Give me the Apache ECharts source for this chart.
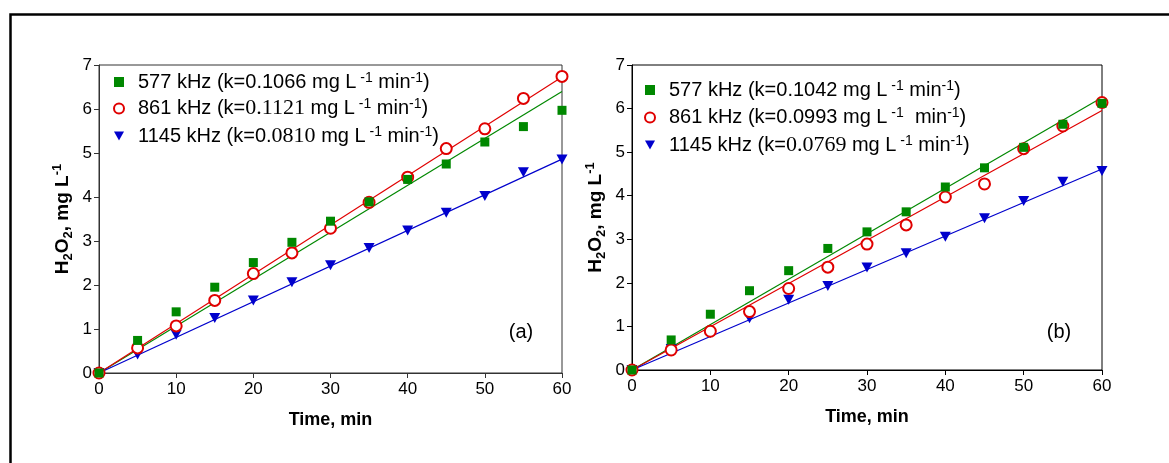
<!DOCTYPE html>
<html><head><meta charset="utf-8">
<script src="https://cdn.jsdelivr.net/npm/echarts@6/dist/echarts.min.js"></script>
<style>html,body{margin:0;padding:0;background:#fff}#c{width:1169px;height:463px}</style>
</head><body><div id="c"></div>
<script>
// ---------- data ----------
const times = [0, 5, 10, 15, 20, 25, 30, 35, 40, 45, 50, 55, 60];
const freqLabels = ['577 kHz', '861 kHz', '1145 kHz'];
const xTicks = [0, 10, 20, 30, 40, 50, 60];
const yTicks = [0, 1, 2, 3, 4, 5, 6, 7];
// panel (a)
const a577  = [0, 0.74, 1.39, 1.95, 2.51, 2.97, 3.45, 3.89, 4.40, 4.75, 5.25, 5.60, 5.97];
const a861  = [0, 0.57, 1.07, 1.65, 2.26, 2.73, 3.29, 3.88, 4.45, 5.10, 5.55, 6.24, 6.74];
const a1145 = [0, 0.42, 0.87, 1.25, 1.65, 2.06, 2.45, 2.84, 3.24, 3.64, 4.02, 4.56, 4.85];
const aK = ['0.1066', '0.1121', '0.0810'];
// panel (b)
const b577  = [0, 0.69, 1.28, 1.82, 2.28, 2.79, 3.17, 3.63, 4.20, 4.64, 5.11, 5.64, 6.12];
const b861  = [0, 0.46, 0.89, 1.34, 1.87, 2.36, 2.89, 3.33, 3.97, 4.27, 5.08, 5.60, 6.14];
const b1145 = [0, 0.48, 0.85, 1.19, 1.61, 1.93, 2.35, 2.68, 3.06, 3.48, 3.88, 4.32, 4.57];
const bK = ['0.1042', '0.0993', '0.0769'];
const panelLetters = ['(a)', '(b)'];

// ---------- styling ----------
const SANS = '"Liberation Sans", Arial, sans-serif';
const SERIF = '"Liberation Serif", "Times New Roman", serif';
const colors = ['#008800', '#e00000', '#0000cc'];
const symbols = ['rect', 'emptyCircle', 'path://M0,0 L10,0 L5,9 Z'];
const symSizes = [9, 11, [11, 10]];
const aSerifFrom = [null, 0, 2];
const bSerifFrom = [null, null, 0];
const bExtraSpace = [false, true, false];

const richLegend = {
  g: { width: 9 },
  t: { fontSize: 20, fontFamily: SANS, color: '#000', lineHeight: 22 },
  sr: { fontSize: 22, fontFamily: SERIF, color: '#000', lineHeight: 22 },
  sup: { fontSize: 14, fontFamily: SANS, color: '#000', lineHeight: 14, verticalAlign: 'top' }
};

function legendText(freq, k, serifFrom, extra) {
  let kPart;
  if (serifFrom === null) kPart = '{t|' + k + '}';
  else kPart = (serifFrom > 0 ? '{t|' + k.slice(0, serifFrom) + '}' : '') + '{sr|' + k.slice(serifFrom) + '}';
  return '{g|}{t|' + freq + ' (k=}' + kPart + '{t| mg L}{sup| -1}{t|' + (extra ? '  ' : ' ') + 'min}{sup|-1}{t|)}';
}

const legendMap = {};
const panels = [
  { id: 'a', sets: [a577, a861, a1145], K: aK, serif: aSerifFrom, extra: [false, false, false] },
  { id: 'b', sets: [b577, b861, b1145], K: bK, serif: bSerifFrom, extra: bExtraSpace }
];

const series = [];
const legendNames = [[], []];
panels.forEach((p, pi) => {
  // fit lines (y = k t)
  p.K.forEach((k, si) => {
    const kv = parseFloat(k);
    series.push({
      type: 'line', xAxisIndex: pi, yAxisIndex: pi, silent: true, symbol: 'none',
      name: 'fit-' + p.id + si,
      data: [[times[0], 0], [times[times.length - 1], kv * times[times.length - 1]]],
      lineStyle: { color: colors[si], width: 1.2 }, z: 1, animation: false
    });
  });
  // points: draw order blue, red, green (green on top)
  [2, 1, 0].forEach((si, ord) => {
    const name = freqLabels[si] + ' k=' + p.K[si] + ' ' + p.id;
    legendMap[name] = legendText(freqLabels[si], p.K[si], p.serif[si], p.extra[si]);
    series.push({
      type: 'scatter', xAxisIndex: pi, yAxisIndex: pi, name: name,
      data: times.map((t, i) => [t, p.sets[si][i]]),
      symbol: symbols[si], symbolSize: symSizes[si],
      itemStyle: { color: colors[si], borderColor: colors[si], borderWidth: si === 1 ? 1.3 : 0, opacity: 1 },
      z: 3 + ord, animation: false
    });
  });
  legendNames[pi] = [0, 1, 2].map(si => freqLabels[si] + ' k=' + p.K[si] + ' ' + p.id);
});

const grids = [
  { left: 99, top: 65, width: 463, height: 308 },
  { left: 632, top: 65, width: 470, height: 305 }
];

function xAxisFor(i, color) {
  return {
    gridIndex: i, type: 'value', min: xTicks[0], max: xTicks[xTicks.length - 1], interval: xTicks[1] - xTicks[0],
    axisLine: { show: true, onZero: false, lineStyle: { color: color, width: 1 } },
    axisTick: { show: true, inside: false, length: 5, lineStyle: { color: color } },
    splitLine: { show: false },
    axisLabel: { fontSize: 17, color: '#000', fontFamily: SANS, margin: 8 },
    name: 'Time, min', nameLocation: 'middle', nameGap: 38,
    nameTextStyle: { fontSize: 18, fontWeight: 'bold', color: '#000', fontFamily: SANS }
  };
}
function yAxisFor(i, color) {
  return {
    gridIndex: i, type: 'value', min: yTicks[0], max: yTicks[yTicks.length - 1], interval: yTicks[1] - yTicks[0],
    axisLine: { show: true, onZero: false, lineStyle: { color: color, width: 1 } },
    axisTick: { show: true, inside: false, length: 5, lineStyle: { color: color } },
    splitLine: { show: false },
    axisLabel: { fontSize: 17, color: '#000', fontFamily: SANS, margin: 7 },
    name: '{b|H}{s|2}{b|O}{s|2}{b|, mg L}{p|-1}', nameLocation: 'middle', nameGap: 24,
    nameTextStyle: {
      rich: {
        b: { fontSize: 19, fontWeight: 'bold', color: '#000', fontFamily: SANS, lineHeight: 24 },
        s: { fontSize: 13, fontWeight: 'bold', color: '#000', fontFamily: SANS, lineHeight: 13, verticalAlign: 'bottom' },
        p: { fontSize: 13, fontWeight: 'bold', color: '#000', fontFamily: SANS, lineHeight: 13, verticalAlign: 'top' }
      }
    }
  };
}

const option = {
  backgroundColor: '#fff',
  animation: false,
  grid: grids.map((g, i) => Object.assign({ show: true, borderColor: i === 0 ? '#333' : '#000', borderWidth: 1, backgroundColor: 'transparent', containLabel: false, outerBoundsMode: 'none' }, g)),
  xAxis: [xAxisFor(0, '#333'), xAxisFor(1, '#000')],
  yAxis: [yAxisFor(0, '#333'), yAxisFor(1, '#000')],
  legend: [
    { orient: 'vertical', left: 108, top: 66, itemWidth: 10, itemHeight: 10, itemGap: 5.5, selectedMode: false,
      data: legendNames[0], formatter: n => legendMap[n], textStyle: { rich: richLegend } },
    { orient: 'vertical', left: 639, top: 74, itemWidth: 10, itemHeight: 10, itemGap: 6.5, selectedMode: false,
      data: legendNames[1], formatter: n => legendMap[n], textStyle: { rich: richLegend } }
  ],
  graphic: [
    { type: 'rect', left: 8, top: 12, shape: { width: 1200, height: 500 }, style: { fill: 'none', stroke: '#000', lineWidth: 2.5 }, silent: true },
    { type: 'text', x: 521, y: 332, style: { text: panelLetters[0], fontSize: 20, fontFamily: SANS, fill: '#000', align: 'center', verticalAlign: 'middle' } },
    { type: 'text', x: 1059, y: 332, style: { text: panelLetters[1], fontSize: 20, fontFamily: SANS, fill: '#000', align: 'center', verticalAlign: 'middle' } }
  ],
  series: series
};

const chart = echarts.init(document.getElementById('c'), null, { renderer: 'canvas' });
chart.setOption(option);
</script>
</body></html>
